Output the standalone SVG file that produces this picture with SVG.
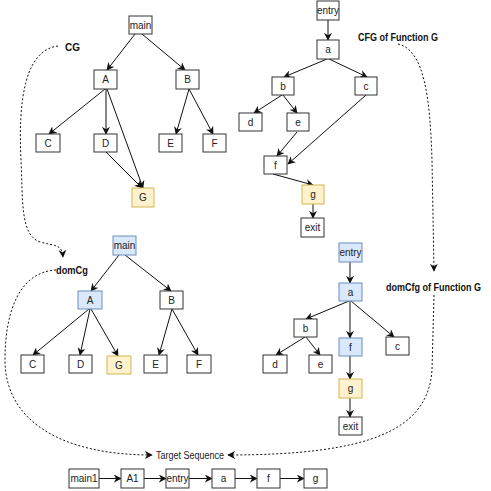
<svg xmlns="http://www.w3.org/2000/svg" width="491" height="491" viewBox="0 0 491 491">
<defs>
<style>
.n rect{fill:#fff;stroke:#333;stroke-width:1}
.n text{font-family:"Liberation Sans",Arial,sans-serif;font-size:10px;fill:#222;text-anchor:middle;dominant-baseline:central}
.n.blue rect{fill:#dae8fc;stroke:#6c8ebf}
.n.yel rect{fill:#fff2cc;stroke:#d6b656}
.e path{fill:none;stroke:#111;stroke-width:1;marker-end:url(#ar)}
.d path{fill:none;stroke:#111;stroke-width:1;stroke-dasharray:2 2;marker-end:url(#ar)}
.lb{font-family:"Liberation Sans",Arial,sans-serif;font-size:10px;font-weight:bold;fill:#111}
.lt{font-family:"Liberation Sans",Arial,sans-serif;font-size:10px;fill:#222}
</style>
<marker id="ar" viewBox="0 0 10 10" refX="9" refY="5" markerWidth="8" markerHeight="8" markerUnits="userSpaceOnUse" orient="auto">
<path d="M0,0 L10,5 L0,10 L3,5 z" fill="#111"/>
</marker>
</defs>

<g id="connectors">
<g class="e">
<!-- CG -->
<path d="M135,34 L107,70"/>
<path d="M142,34 L185,70"/>
<path d="M105,89 L49,134"/>
<path d="M106,89 L106,134"/>
<path d="M107,89 L143,188"/>
<path d="M106,152 L142,188"/>
<path d="M189,89 L176,134"/>
<path d="M189,89 L213,134"/>
<!-- CFG -->
<path d="M328,20 L328,40"/>
<path d="M327,59 L284,77"/>
<path d="M329,59 L367,77"/>
<path d="M282,95 L254,113"/>
<path d="M283,95 L297,113"/>
<path d="M297,132 L277,156"/>
<path d="M366,95 L288,164"/>
<path d="M273,174 L313,185"/>
<path d="M313,204 L313,218"/>
<!-- domCg -->
<path d="M119,255 L91,291"/>
<path d="M125,255 L171,291"/>
<path d="M89,309 L33,355"/>
<path d="M90,309 L80,355"/>
<path d="M91,309 L118,356"/>
<path d="M172,309 L159,355"/>
<path d="M172,309 L198,355"/>
<!-- domCfg -->
<path d="M350,262 L350,283"/>
<path d="M349,301 L306,319"/>
<path d="M350,301 L350,338"/>
<path d="M351,301 L394,337"/>
<path d="M305,337 L276,355"/>
<path d="M306,337 L320,355"/>
<path d="M350,356 L350,379"/>
<path d="M350,398 L350,417"/>
<!-- sequence -->
<path d="M99,478.5 L121,478.5"/>
<path d="M144,478.5 L166,478.5"/>
<path d="M189,478.5 L212,478.5"/>
<path d="M235,478.5 L257,478.5"/>
<path d="M280,478.5 L304,478.5"/>
</g>
<g class="d">
<path d="M58,46 C25,50 18,100 21,160 C23,200 20,235 40,242 C55,246 62,244 63,257"/>
<path d="M56,270 C20,272 5,310 5,360 C5,420 60,455 152,455"/>
<path d="M398,44 C425,50 430,100 432,160 L434,271"/>
<path d="M434,295 L432,370 C428,430 370,455 228,455"/>
</g>
</g>

<text class="lb" x="65" y="51">CG</text>
<text class="lb" x="358" y="41" textLength="80" lengthAdjust="spacingAndGlyphs">CFG of Function G</text>
<text class="lb" x="56" y="274" textLength="32" lengthAdjust="spacingAndGlyphs">domCg</text>
<text class="lb" x="386" y="291" textLength="95" lengthAdjust="spacingAndGlyphs">domCfg of Function G</text>
<text class="lt" x="156" y="459" textLength="68" lengthAdjust="spacingAndGlyphs">Target Sequence</text>

<!-- CG -->
<g id="cg-main" class="n"><rect x="129" y="16" width="23" height="18"/><text x="140.5" y="25">main</text></g>
<g id="cg-A" class="n"><rect x="94" y="70" width="23" height="19"/><text x="105.5" y="79.5">A</text></g>
<g id="cg-B" class="n"><rect x="176" y="70" width="23" height="19"/><text x="187.5" y="79.5">B</text></g>
<g id="cg-C" class="n"><rect x="36" y="134" width="24" height="18"/><text x="48" y="143">C</text></g>
<g id="cg-D" class="n"><rect x="94" y="134" width="23" height="18"/><text x="105.5" y="143">D</text></g>
<g id="cg-E" class="n"><rect x="159" y="134" width="23" height="18"/><text x="170.5" y="143">E</text></g>
<g id="cg-F" class="n"><rect x="203" y="134" width="23" height="18"/><text x="214.5" y="143">F</text></g>
<g id="cg-G" class="n yel"><rect x="132" y="188" width="22" height="19"/><text x="143" y="197.5">G</text></g>

<!-- CFG -->
<g id="cfg-entry" class="n"><rect x="317" y="1" width="22" height="19"/><text x="328" y="10.5">entry</text></g>
<g id="cfg-a" class="n"><rect x="317" y="40" width="22" height="19"/><text x="328" y="49.5">a</text></g>
<g id="cfg-b" class="n"><rect x="272" y="77" width="22" height="18"/><text x="283" y="86">b</text></g>
<g id="cfg-c" class="n"><rect x="355" y="77" width="22" height="18"/><text x="366" y="86">c</text></g>
<g id="cfg-d" class="n"><rect x="239" y="113" width="23" height="18"/><text x="250.5" y="122">d</text></g>
<g id="cfg-e" class="n"><rect x="287" y="113" width="22" height="18"/><text x="298" y="122">e</text></g>
<g id="cfg-f" class="n"><rect x="264" y="156" width="23" height="18"/><text x="275.5" y="165">f</text></g>
<g id="cfg-g" class="n yel"><rect x="302" y="185" width="22" height="19"/><text x="313" y="194.5">g</text></g>
<g id="cfg-exit" class="n"><rect x="301" y="218" width="23" height="19"/><text x="312.5" y="227.5">exit</text></g>

<!-- domCg -->
<g id="dcg-main" class="n blue"><rect x="113" y="236" width="23" height="19"/><text x="124.5" y="245.5">main</text></g>
<g id="dcg-A" class="n blue"><rect x="78" y="291" width="24" height="18"/><text x="90" y="300">A</text></g>
<g id="dcg-B" class="n"><rect x="160" y="291" width="23" height="18"/><text x="171.5" y="300">B</text></g>
<g id="dcg-C" class="n"><rect x="21" y="355" width="23" height="18"/><text x="32.5" y="364">C</text></g>
<g id="dcg-D" class="n"><rect x="69" y="355" width="23" height="18"/><text x="80.5" y="364">D</text></g>
<g id="dcg-G" class="n yel"><rect x="107" y="356" width="24" height="18"/><text x="119" y="365">G</text></g>
<g id="dcg-E" class="n"><rect x="144" y="355" width="23" height="18"/><text x="155.5" y="364">E</text></g>
<g id="dcg-F" class="n"><rect x="187" y="355" width="24" height="18"/><text x="199" y="364">F</text></g>

<!-- domCfg -->
<g id="dcfg-entry" class="n blue"><rect x="339" y="243" width="23" height="19"/><text x="350.5" y="252.5">entry</text></g>
<g id="dcfg-a" class="n blue"><rect x="339" y="283" width="23" height="18"/><text x="350.5" y="292">a</text></g>
<g id="dcfg-b" class="n"><rect x="294" y="319" width="23" height="18"/><text x="305.5" y="328">b</text></g>
<g id="dcfg-f" class="n blue"><rect x="339" y="338" width="23" height="18"/><text x="350.5" y="347">f</text></g>
<g id="dcfg-c" class="n"><rect x="386" y="337" width="23" height="18"/><text x="397.5" y="346">c</text></g>
<g id="dcfg-d" class="n"><rect x="263" y="355" width="24" height="18"/><text x="275" y="364">d</text></g>
<g id="dcfg-e" class="n"><rect x="309" y="355" width="23" height="18"/><text x="320.5" y="364">e</text></g>
<g id="dcfg-g" class="n yel"><rect x="339" y="379" width="23" height="19"/><text x="350.5" y="388.5">g</text></g>
<g id="dcfg-exit" class="n"><rect x="339" y="417" width="23" height="18"/><text x="350.5" y="426">exit</text></g>

<!-- sequence -->
<g id="seq-main1" class="n"><rect x="69" y="469" width="30" height="19"/><text x="84" y="478.5">main1</text></g>
<g id="seq-A1" class="n"><rect x="121" y="469" width="23" height="19"/><text x="132.5" y="478.5">A1</text></g>
<g id="seq-entry" class="n"><rect x="166" y="469" width="23" height="19"/><text x="177.5" y="478.5">entry</text></g>
<g id="seq-a" class="n"><rect x="212" y="469" width="23" height="19"/><text x="223.5" y="478.5">a</text></g>
<g id="seq-f" class="n"><rect x="257" y="469" width="23" height="19"/><text x="268.5" y="478.5">f</text></g>
<g id="seq-g" class="n"><rect x="304" y="469" width="23" height="19"/><text x="315.5" y="478.5">g</text></g>
</svg>
